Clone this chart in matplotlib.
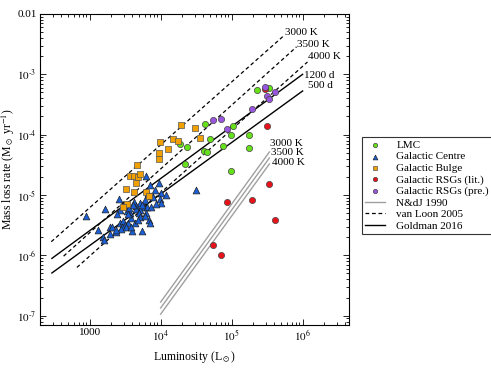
import matplotlib
matplotlib.use('Agg')
from matplotlib import pyplot as plt
from matplotlib.ticker import NullFormatter

plt.rcParams['font.family'] = 'serif'
plt.rcParams['font.serif'] = ['Liberation Serif', 'DejaVu Serif']
plt.rcParams['mathtext.fontset'] = 'stix'

# LMC (green circles)
lmc_lum = [2.27e5, 3.37e5, 1.03e5, 4.24e4, 5.01e4, 9.68e4, 1.76e5, 2.36e4,
           7.52e4, 4.10e4, 4.55e4, 1.75e5, 1.85e4, 2.23e4, 9.68e4]
lmc_mlr = [5.4e-4, 5.9e-4, 1.39e-4, 1.50e-4, 8.55e-5, 9.9e-5, 1.0e-4, 6.2e-5,
           6.55e-5, 5.4e-5, 5.1e-5, 5.9e-5, 7.0e-5, 3.3e-5, 2.47e-5]

# Galactic Centre (blue triangles)
gc_lum = [6150, 7110, 9370, 8370, 6620, 7400, 10200, 11800, 9680, 10000,
          31100, 7790, 5950, 5060, 4170, 4450, 5760, 6410, 7400, 4550,
          5180, 4950, 6290, 5060, 3660, 3320, 3600, 2920, 2590, 1640,
          879, 2650, 2710, 2940, 3110, 3460, 2820, 3290, 2760, 3990,
          4350, 1910, 2090, 2320, 1960, 1330, 1540, 1580, 6780, 7070,
          5450, 8510, 3870, 3780, 2380, 5400, 4030, 3430, 4740, 5950, 2400]
gc_mlr = [2.03e-5, 1.44e-5, 1.58e-5, 1.23e-5, 1.09e-5, 9.8e-6, 1.07e-5, 9.9e-6, 8.5e-6, 7.5e-6,
          1.21e-5, 9.3e-6, 8.3e-6, 7.3e-6, 7.6e-6, 6.6e-6, 6.3e-6, 6.3e-6, 6.4e-6, 5.9e-6,
          5.6e-6, 5.0e-6, 5.0e-6, 4.4e-6, 5.1e-6, 5.5e-6, 6.1e-6, 6.6e-6, 8.5e-6, 5.9e-6,
          4.5e-6, 5.6e-6, 3.5e-6, 3.7e-6, 3.2e-6, 3.5e-6, 3.0e-6, 2.9e-6, 2.7e-6, 2.5e-6,
          3.4e-6, 3.0e-6, 2.9e-6, 2.4e-6, 2.3e-6, 2.6e-6, 2.05e-6, 1.8e-6, 3.85e-6, 3.5e-6,
          2.5e-6, 7.1e-6, 4.1e-6, 3.0e-6, 2.6e-6, 6.8e-6, 6.8e-6, 4.8e-6, 3.85e-6, 4.5e-6, 4.8e-6]

# Galactic Bulge (orange squares)
gb_lum = [35400, 30100, 19600, 14900, 17500, 9680, 12550, 9530, 9530, 4640, 3660,
          4170, 4740, 5060, 4550, 3270, 4230, 6250, 6890, 3320, 2920]
gb_mlr = [8.9e-5, 1.31e-4, 1.42e-4, 8.4e-5, 7.8e-5, 7.7e-5, 5.7e-5, 5.0e-5, 3.9e-5, 3.2e-5, 2.09e-5,
          2.03e-5, 1.95e-5, 2.2e-5, 1.56e-5, 1.25e-5, 1.14e-5, 1.10e-5, 9.8e-6, 7.2e-6, 6.4e-6]

# Galactic RSGs, literature (red) and present work (purple)
lit_lum = [2.98e5, 3.18e5, 3.37e5, 8.59e4, 1.93e5, 4.10e5, 5.54e4, 7.05e4]
lit_mlr = [5.7e-4, 1.41e-4, 1.51e-5, 7.6e-6, 8.3e-6, 3.8e-6, 1.50e-6, 1.0e-6]
pre_lum = [2.96e5, 4.10e5, 3.18e5, 3.40e5, 1.91e5, 7.05e4, 5.52e4, 8.55e4]
pre_mlr = [6.1e-4, 5.05e-4, 4.35e-4, 3.86e-4, 2.64e-4, 1.81e-4, 1.72e-4, 1.25e-4]

# prescriptions (end points of each relation)
vl_labels = ['3000 K', '3500 K', '4000 K']
vl_lum = [[288, 5.6e5], [430, 8.2e5], [662, 1.17e6]]
vl_mlr = [[1.68e-6, 4.5e-3], [9.7e-7, 2.85e-3], [6.3e-7, 1.6e-3]]

gold_labels = ['1200 d', '500 d']
gold_lum = [[294, 1.0e6], [294, 1.0e6]]
gold_mlr = [[8.9e-7, 1.0e-3], [5.1e-7, 5.3e-4]]

ndj_labels = ['3000 K', '3500 K', '4000 K']
ndj_lum = [1.0e4, 3.4e5]
ndj_mlr = [[1.68e-7, 5.16e-5], [1.34e-7, 4.11e-5], [1.06e-7, 3.27e-5]]

x_ticks = [1e3, 1e4, 1e5, 1e6]
x_ticklabels = ['1000', '$10^4$', '$10^5$', '$10^6$']
y_ticks = [1e-7, 1e-6, 1e-5, 1e-4, 1e-3, 1e-2]
y_ticklabels = [r'$10^{\text{-}7}$', r'$10^{\text{-}6}$', r'$10^{\text{-}5}$',
                r'$10^{\text{-}4}$', r'$10^{\text{-}3}$', '0.01']

fig = plt.figure(figsize=(4.91, 3.68), dpi=100)
ax = fig.add_axes([0.0815, 0.1168, 0.6293, 0.8452])

dash = (0, (3, 2.2))
for i in range(3):
    ax.plot(ndj_lum, ndj_mlr[i], color='#a0a0a0', lw=1.0,
            label='N&dJ 1990' if i == 0 else None)
for i in range(3):
    ax.plot(vl_lum[i], vl_mlr[i], color='black', lw=0.9, linestyle=dash,
            label='van Loon 2005' if i == 0 else None)
for i in range(2):
    ax.plot(gold_lum[i], gold_mlr[i], color='black', lw=1.0,
            label='Goldman 2016' if i == 0 else None)

ax.scatter(lmc_lum, lmc_mlr, s=20, marker='o', c='#66e01a', edgecolors='#444444',
           linewidths=0.5, zorder=3, label='LMC')
ax.scatter(gc_lum, gc_mlr, s=24, marker='^', c='#1a5fd6', edgecolors='#222222',
           linewidths=0.5, zorder=3, label='Galactic Centre')
ax.scatter(gb_lum, gb_mlr, s=24, marker='s', c='#f0a000', edgecolors='#555555',
           linewidths=0.5, zorder=3, label='Galactic Bulge')
ax.scatter(lit_lum, lit_mlr, s=20, marker='o', c='#e8121a', edgecolors='#444444',
           linewidths=0.5, zorder=3, label='Galactic RSGs (lit.)')
ax.scatter(pre_lum, pre_mlr, s=20, marker='o', c='#9955dd', edgecolors='#444444',
           linewidths=0.5, zorder=3, label='Galactic RSGs (pre.)')

# line labels
vl_off = [(0, 1.5), (0.7, 2), (0.7, 4)]
for i in range(3):
    ax.annotate(vl_labels[i], xy=(vl_lum[i][1], vl_mlr[i][1]), xytext=vl_off[i],
                textcoords='offset points', ha='left', va='center', fontsize=8)
gold_off = [(0.7, -0.7), (3.6, 3.6)]
for i in range(2):
    ax.annotate(gold_labels[i], xy=(gold_lum[i][1], gold_mlr[i][1]), xytext=gold_off[i],
                textcoords='offset points', ha='left', va='center', fontsize=8)
ndj_off = [(0.7, 5.8), (1.4, 3.6), (2.2, 1.4)]
for i in range(3):
    ax.annotate(ndj_labels[i], xy=(ndj_lum[1], ndj_mlr[i][1]), xytext=ndj_off[i],
                textcoords='offset points', ha='left', va='center', fontsize=8)

ax.set_xscale('log')
ax.set_yscale('log')
ax.set_xlim(200, 4.5e6)
ax.set_ylim(7.0e-8, 1e-2)
ax.set_xticks(x_ticks, x_ticklabels)
ax.set_yticks(y_ticks, y_ticklabels)
ax.xaxis.set_minor_formatter(NullFormatter())
ax.yaxis.set_minor_formatter(NullFormatter())
ax.tick_params(which='both', direction='in', top=True, right=True, labelsize=8, width=0.6)
ax.tick_params(which='major', length=4, pad=2.5)
ax.tick_params(which='minor', length=2)
for sp in ax.spines.values():
    sp.set_linewidth(0.8)

ax.set_xlabel(r'Luminosity (L$_\odot$)', fontsize=8.5)
ax.set_ylabel(r'Mass loss rate (M$_\odot$ yr$^{-1}$)', fontsize=8.5)
ax.yaxis.set_label_coords(-0.076, 0.5)

h, l = ax.get_legend_handles_labels()
order = ['LMC', 'Galactic Centre', 'Galactic Bulge', 'Galactic RSGs (lit.)',
         'Galactic RSGs (pre.)', 'N&dJ 1990', 'van Loon 2005', 'Goldman 2016']
hd = dict(zip(l, h))
leg = fig.legend([hd[k] for k in order], order, loc='upper left',
                 bbox_to_anchor=(0.737, 0.628), fontsize=8, frameon=True,
                 fancybox=False, edgecolor='black', borderpad=0.3,
                 handlelength=1.8, handletextpad=1.0, labelspacing=0.15,
                 markerscale=0.7, borderaxespad=0)
leg.get_frame().set_linewidth(0.8)

fig.savefig('out.png', dpi=100)
